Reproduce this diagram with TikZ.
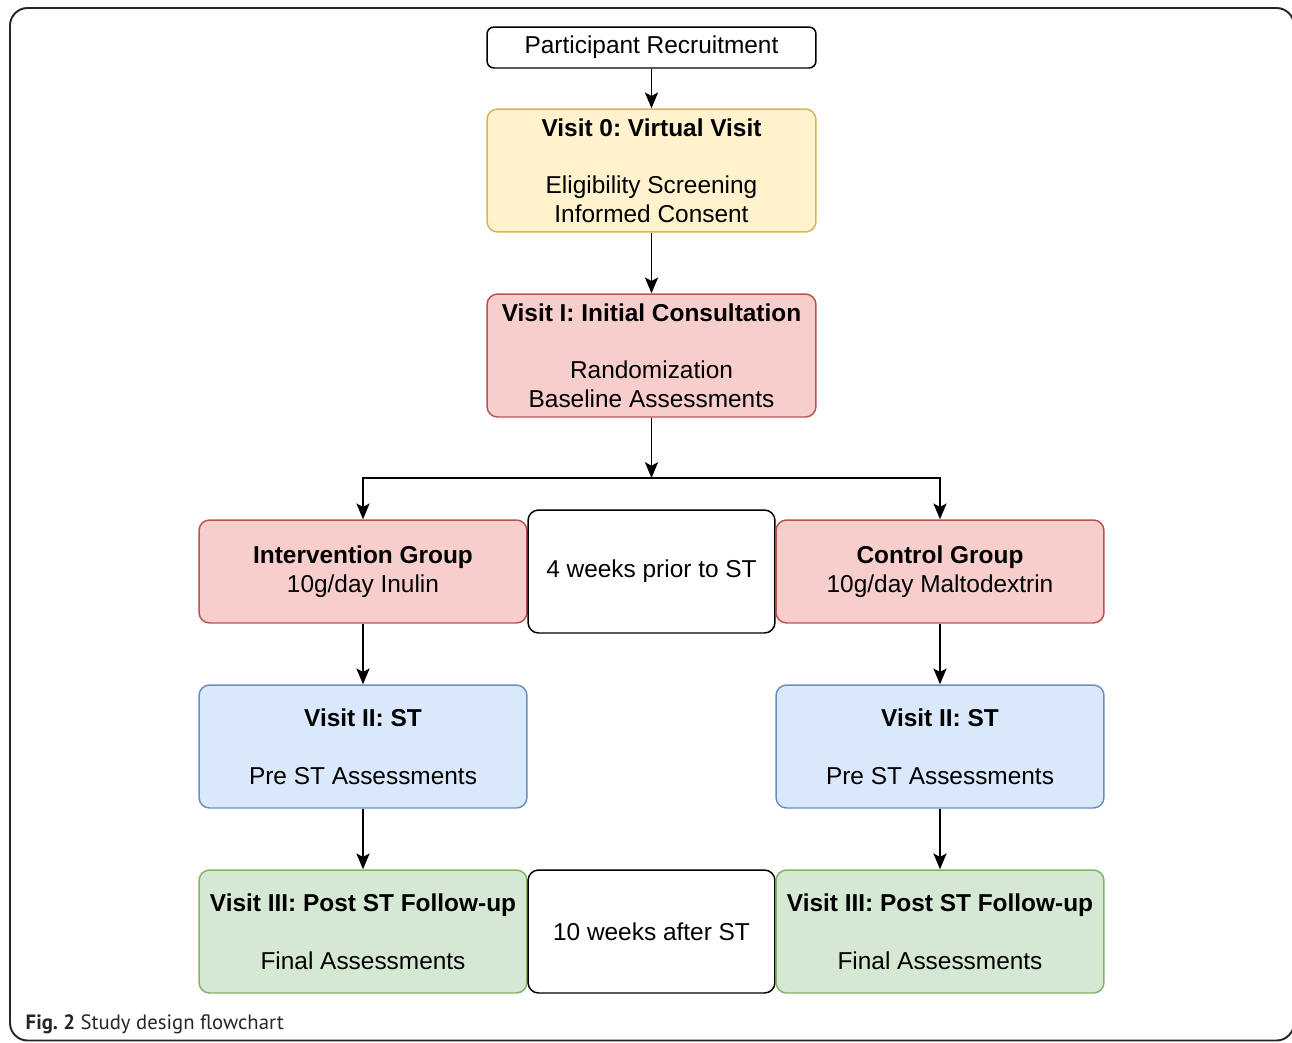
\documentclass[tikz,border=0pt]{standalone}
\usepackage{fontspec}
\setmainfont{Liberation Sans}
\newfontfamily\capfont{PT Sans}
\usetikzlibrary{arrows.meta}
\usetikzlibrary{positioning}
\frenchspacing

\definecolor{yelf}{HTML}{FFF2CC}\definecolor{yeld}{HTML}{D6B656}
\definecolor{redf}{HTML}{F8CECC}\definecolor{redd}{HTML}{B85450}
\definecolor{bluf}{HTML}{DAE8FC}\definecolor{blud}{HTML}{6C8EBF}
\definecolor{grnf}{HTML}{D5E8D4}\definecolor{grnd}{HTML}{82B366}

\begin{document}
\begin{tikzpicture}[x=0.02cm, y=-0.02cm, every node/.style={draw, rounded corners=6pt, align=center, line width=0.85pt, inner sep=2pt, font=\fontsize{13.9}{16.4}\selectfont},
 box/.style={minimum width=6.58cm, minimum height=2.46cm},
 grp/.style={minimum width=6.56cm, minimum height=2.06cm},
 side/.style={minimum width=4.94cm, minimum height=2.46cm, draw=black},
 >={Stealth[length=9pt, width=7.5pt, inset=2pt]}
]
 \tikzstyle{ar}=[->, line width=0.85pt, black];
\clip (0,0) rectangle (1292,1042);
\draw[line width=1.1pt, black!85, rounded corners=10pt] (10,8) rectangle (1294,1040.5);

\node[minimum width=6.58cm, minimum height=0.82cm, draw=black, rounded corners=4pt] (R) at (651.5,47.5) {Participant Recruitment};
\node[box, fill=yelf, draw=yeld] (V0) at (651.5,170.5) {\textbf{Visit 0: Virtual Visit}\\[16.4pt]Eligibility Screening\\Informed Consent};
\node[box, fill=redf, draw=redd] (V1) at (651.5,355.5) {\textbf{Visit I: Initial Consultation}\\[16.4pt]Randomization\\Baseline Assessments};

\node[grp, fill=redf, draw=redd] (IG) at (363,571.5) {\textbf{Intervention Group}\\10g/day Inulin};
\node[side] (W4) at (651.5,571.5) {4 weeks prior to ST};
\node[grp, fill=redf, draw=redd] (CG) at (940,571.5) {\textbf{Control Group}\\10g/day Maltodextrin};

\node[grp, minimum height=2.46cm, fill=bluf, draw=blud] (V2a) at (363,746.5) {\textbf{Visit II: ST}\\[16.4pt]Pre ST Assessments};
\node[grp, minimum height=2.46cm, fill=bluf, draw=blud] (V2b) at (940,746.5) {\textbf{Visit II: ST}\\[16.4pt]Pre ST Assessments};

\node[grp, minimum height=2.46cm, fill=grnf, draw=grnd] (V3a) at (363,931.5) {\textbf{Visit III: Post ST Follow-up}\\[16.4pt]Final Assessments};
\node[side] (W10) at (651.5,931.5) {10 weeks after ST};
\node[grp, minimum height=2.46cm, fill=grnf, draw=grnd] (V3b) at (940,931.5) {\textbf{Visit III: Post ST Follow-up}\\[16.4pt]Final Assessments};

\coordinate (J) at (651.5,478);
\draw[ar] (R) -- (V0);
\draw[ar] (V0) -- (V1);
\draw[ar] (V1) -- (J);
\draw[ar] (J) -| (IG);
\draw[ar] (J) -| (CG);
\draw[ar] (IG) -- (V2a);
\draw[ar] (CG) -- (V2b);
\draw[ar] (V2a) -- (V3a);
\draw[ar] (V2b) -- (V3b);

\node[draw=none, anchor=base west, inner sep=0pt, font=\capfont\fontsize{11.8}{14}\selectfont, text=black!85] (cap) at (25,1029) {\textbf{Fig. 2} Study design flowchart};
\end{tikzpicture}
\end{document}
